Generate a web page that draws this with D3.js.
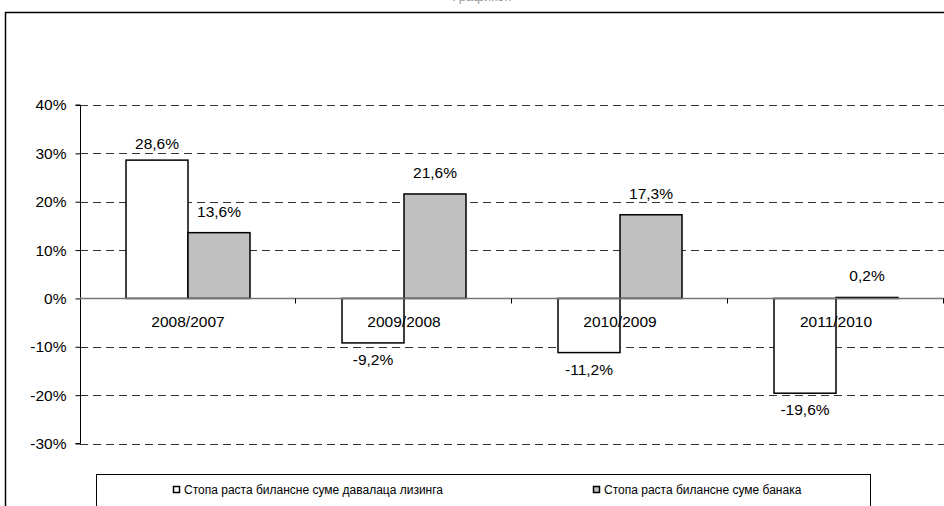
<!DOCTYPE html>
<html lang="sr">
<head>
    <meta charset="UTF-8">
    <title>Стопа раста билансне суме</title>
    <script src="https://d3js.org/d3.v7.min.js"></script>
    <style>
        body { margin: 0; background: #fff; }
        svg text { font-family: "Liberation Sans", Arial, sans-serif; fill: #000; }
    </style>
</head>
<body>
    <div id="chart"></div>
    <script>
        const categories = ["2008/2007", "2009/2008", "2010/2009", "2011/2010"];
        const leasing = [28.6, -9.2, -11.2, -19.6];
        const banks = [13.6, 21.6, 17.3, 0.2];
        const seriesNames = ["Стопа раста билансне суме давалаца лизинга", "Стопа раста билансне суме банака"];
        const yTicks = [40, 30, 20, 10, 0, -10, -20, -30];

        const width = 944, height = 506;
        const svg = d3.select("#chart").append("svg")
            .attr("width", width).attr("height", height);

        // outer chart frame
        svg.append("rect")
            .attr("x", 5.5).attr("y", 12.5)
            .attr("width", 960).attr("height", 520)
            .attr("fill", "none").attr("stroke", "#000").attr("stroke-width", 1.5);

        // title, mostly cut off at the top edge
        svg.append("text")
            .attr("x", 482).attr("y", 1)
            .attr("text-anchor", "middle")
            .style("font-size", "13px").style("fill", "#999")
            .text("Графикон");

        const x = d3.scaleBand().domain(categories).range([80, 944]);
        const y = d3.scaleLinear().domain([-30, 40]).range([443.5, 105]);
        const barW = 62;
        const fs = "15.5px";

        // dashed gridlines
        svg.append("g").selectAll("line")
            .data(yTicks.filter(d => d !== 0))
            .enter().append("line")
            .attr("x1", 80).attr("x2", 944)
            .attr("y1", d => Math.round(y(d)) + 0.5).attr("y2", d => Math.round(y(d)) + 0.5)
            .attr("stroke", "#333").attr("stroke-dasharray", "8,5");

        // y axis
        const yAxis = svg.append("g")
            .attr("transform", "translate(80.5,0)")
            .call(d3.axisLeft(y).tickValues(yTicks).tickSize(5).tickFormat(d => d + "%"));
        yAxis.select(".domain").attr("stroke", "#000").attr("d", `M-5,${y(40)}H0V${y(-30)}H-5`);
        yAxis.selectAll("text").style("font-size", fs).attr("x", -14);

        const zeroY = Math.round(y(0)) + 0.5;

        // bars
        const groups = svg.append("g").selectAll("g")
            .data(categories)
            .enter().append("g");

        groups.append("rect")
            .attr("x", d => x(d) + x.bandwidth() / 2 - barW)
            .attr("y", (d, i) => y(Math.max(0, leasing[i])))
            .attr("width", barW)
            .attr("height", (d, i) => Math.abs(y(leasing[i]) - y(0)))
            .attr("fill", "#fff").attr("stroke", "#000").attr("stroke-width", 1.5);

        groups.append("rect")
            .attr("x", d => x(d) + x.bandwidth() / 2)
            .attr("y", (d, i) => y(Math.max(0, banks[i])))
            .attr("width", barW)
            .attr("height", (d, i) => Math.abs(y(banks[i]) - y(0)))
            .attr("fill", "#c0c0c0").attr("stroke", "#000").attr("stroke-width", 1.5);

        // zero line with category ticks
        svg.append("line")
            .attr("x1", 80).attr("x2", 944).attr("y1", zeroY).attr("y2", zeroY)
            .attr("stroke", "#777").attr("stroke-width", 1.5);
        svg.append("g").selectAll("line")
            .data(categories)
            .enter().append("line")
            .attr("x1", (d, i) => 80 + x.bandwidth() * (i + 1) - 0.5)
            .attr("x2", (d, i) => 80 + x.bandwidth() * (i + 1) - 0.5)
            .attr("y1", zeroY).attr("y2", zeroY + 5)
            .attr("stroke", "#000");

        // category labels
        groups.append("text")
            .attr("x", d => x(d) + x.bandwidth() / 2)
            .attr("y", zeroY + 28)
            .attr("text-anchor", "middle")
            .style("font-size", fs)
            .text(d => d);

        const fmt = v => d3.format(".1f")(v).replace(".", ",").replace("−", "-") + "%";

        // data labels
        groups.append("text")
            .attr("x", d => x(d) + x.bandwidth() / 2 - barW / 2)
            .attr("y", (d, i) => leasing[i] >= 0 ? y(leasing[i]) - 11 : y(leasing[i]) + 22)
            .attr("text-anchor", "middle")
            .style("font-size", fs)
            .text((d, i) => fmt(leasing[i]));

        groups.append("text")
            .attr("x", d => x(d) + x.bandwidth() / 2 + barW / 2)
            .attr("y", (d, i) => y(banks[i]) - 16)
            .attr("text-anchor", "middle")
            .style("font-size", fs)
            .text((d, i) => fmt(banks[i]));

        // legend
        const legend = svg.append("g");
        legend.append("rect")
            .attr("x", 96.5).attr("y", 474.5).attr("width", 774).attr("height", 40)
            .attr("fill", "#fff").attr("stroke", "#000");
        const legendX = [173, 593];
        const legendFill = ["#fff", "#c0c0c0"];
        seriesNames.forEach((name, i) => {
            legend.append("rect")
                .attr("x", legendX[i] + 0.5).attr("y", 486.5).attr("width", 6).attr("height", 6)
                .attr("fill", legendFill[i]).attr("stroke", "#000").attr("stroke-width", 1.5);
            legend.append("text")
                .attr("x", legendX[i] + 11).attr("y", 494)
                .style("font-size", "12px")
                .text(name);
        });
    </script>
</body>
</html>
